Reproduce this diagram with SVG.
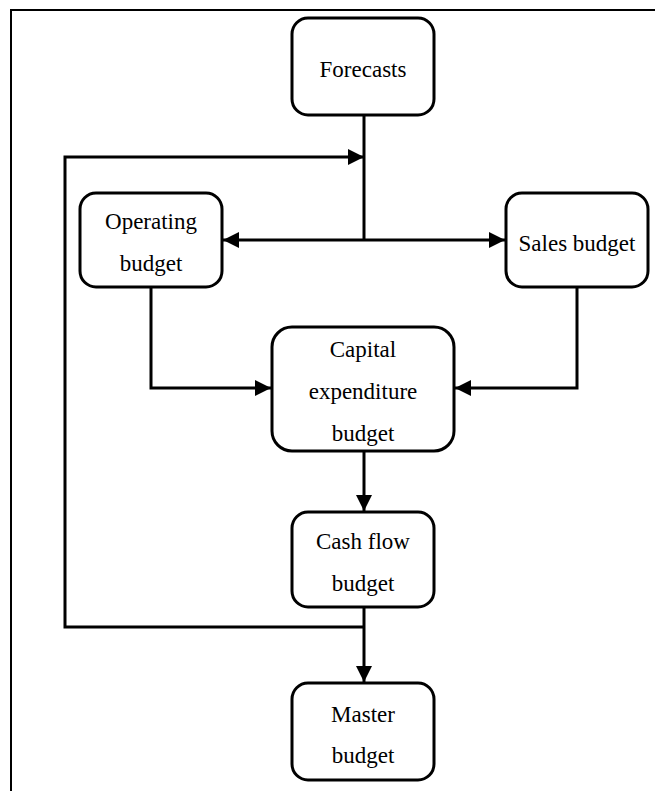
<svg xmlns="http://www.w3.org/2000/svg" width="655" height="791" viewBox="0 0 655 791">
  <style>
    .box { fill: #fff; stroke: #000; stroke-width: 3; }
    .lbl { font-family: 'Liberation Serif', 'DejaVu Serif', serif; font-size: 23px; fill: #000; text-anchor: middle; }
    .wire { fill: none; stroke: #000; stroke-width: 3; }
  </style>
  <defs>
    <marker id="arrow" viewBox="0 0 16 16" refX="16" refY="8" markerWidth="16" markerHeight="16" markerUnits="userSpaceOnUse" orient="auto">
      <path d="M0,0 L16,8 L0,16 Z" fill="#000"/>
    </marker>
  </defs>
  <rect x="0" y="0" width="655" height="791" fill="#fff"/>
  <!-- outer frame -->
  <rect x="11" y="10" width="670" height="800" fill="none" stroke="#000" stroke-width="2"/>

  <g id="connectors">
    <!-- forecasts down to split -->
    <path class="wire" d="M364,115 V240"/>
    <path class="wire" d="M364,240 H223" marker-end="url(#arrow)"/>
    <path class="wire" d="M364,240 H505" marker-end="url(#arrow)"/>
    <!-- feedback loop from cash flow to forecasts line -->
    <path class="wire" d="M364,627 H65 V157 H364" marker-end="url(#arrow)"/>
    <!-- operating and sales into capital expenditure -->
    <path class="wire" d="M151,287 V388 H271" marker-end="url(#arrow)"/>
    <path class="wire" d="M577,287 V388 H455" marker-end="url(#arrow)"/>
    <!-- capital to cash flow -->
    <path class="wire" d="M364,451 V511" marker-end="url(#arrow)"/>
    <!-- cash flow to master -->
    <path class="wire" d="M364,607 V682" marker-end="url(#arrow)"/>
  </g>

  <g id="forecasts">
    <rect class="box" x="292" y="18" width="142" height="97" rx="16"/>
    <text class="lbl" x="363" y="77" font-family="Liberation Serif">Forecasts</text>
  </g>
  <g id="operating-budget">
    <rect class="box" x="80" y="193" width="142" height="94" rx="16"/>
    <text class="lbl" x="151" y="229">Operating</text>
    <text class="lbl" x="151" y="271">budget</text>
  </g>
  <g id="sales-budget">
    <rect class="box" x="506" y="193" width="142" height="94" rx="16"/>
    <text class="lbl" x="577" y="251">Sales budget</text>
  </g>
  <g id="capital-expenditure-budget">
    <rect class="box" x="272" y="327" width="182" height="124" rx="20"/>
    <text class="lbl" x="363" y="357">Capital</text>
    <text class="lbl" x="363" y="399">expenditure</text>
    <text class="lbl" x="363" y="441">budget</text>
  </g>
  <g id="cash-flow-budget">
    <rect class="box" x="292" y="512" width="142" height="95" rx="16"/>
    <text class="lbl" x="363" y="549">Cash flow</text>
    <text class="lbl" x="363" y="591">budget</text>
  </g>
  <g id="master-budget">
    <rect class="box" x="292" y="683" width="142" height="97" rx="16"/>
    <text class="lbl" x="363" y="722">Master</text>
    <text class="lbl" x="363" y="763">budget</text>
  </g>
</svg>
